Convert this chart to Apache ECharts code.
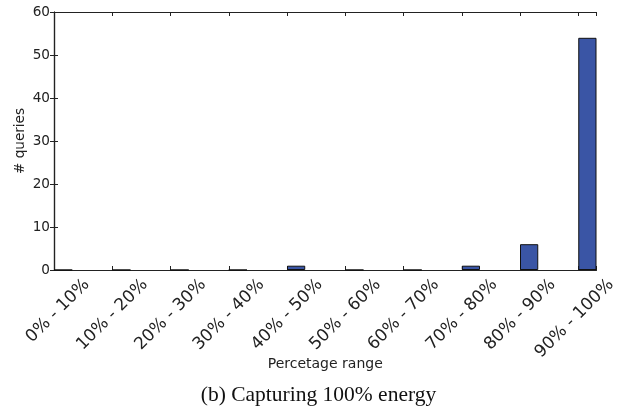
<!DOCTYPE html>
<html><head><meta charset="utf-8">
<script src="https://cdn.jsdelivr.net/npm/echarts@6/dist/echarts.min.js"></script>
<style>html,body{margin:0;padding:0;background:#fff}#c{width:637px;height:410px}</style>
</head><body><div id="c"></div>
<script>
const categories = ['0% - 10%', '10% - 20%', '20% - 30%', '30% - 40%', '40% - 50%',
                    '50% - 60%', '60% - 70%', '70% - 80%', '80% - 90%', '90% - 100%'];
const queryCounts = [0, 0, 0, 0, 1, 0, 0, 1, 6, 54];
const yMin = 0, yMax = 60, yStep = 10;
const xTitle = 'Percetage range';
const yTitle = '# queries';
const caption = '(b) Capturing 100% energy';

const BAR_UNITS = 0.313;            // bar width in category units (edge-aligned bars)
const LABEL_FONT = 17;
const FONT = '"DejaVu Sans", sans-serif';
const AXIS_COLOR = '#222';
const TEXT_COLOR = '#222';

const chart = echarts.init(document.getElementById('c'), null, { renderer: 'canvas' });
const barData = queryCounts.map((v, i) => [i + BAR_UNITS / 2, v]);

const frameAxis = {
  type: 'value', min: 0, max: categories.length - 1 + BAR_UNITS, interval: 1,
  axisLine: { show: true, onZero: false, lineStyle: { color: AXIS_COLOR, width: 1.2 } },
  axisTick: { show: true, inside: true, length: 4, lineStyle: { color: AXIS_COLOR } },
  axisLabel: { show: false }, splitLine: { show: false }
};

chart.setOption({
  animation: false,
  backgroundColor: '#fff',
  title: {
    text: caption, left: 'center', top: 379,
    textStyle: { fontFamily: '"Liberation Serif", serif', fontSize: 21.5, fontWeight: 'normal', color: '#111' }
  },
  grid: [
    { left: 54, top: 12, width: 542.5, height: 258 },
    { left: 86.7, top: 12, width: 524.25, height: 258 }
  ],
  xAxis: [
    Object.assign({}, frameAxis, {
      gridIndex: 0, position: 'bottom',
      name: xTitle, nameLocation: 'middle', nameGap: 87, nameMoveOverlap: false,
      nameTextStyle: { fontFamily: FONT, fontSize: 14, color: TEXT_COLOR }
    }),
    Object.assign({}, frameAxis, { gridIndex: 0, position: 'top' }),
    {
      gridIndex: 1, type: 'category', data: categories, boundaryGap: false, position: 'bottom',
      axisLine: { show: false }, axisTick: { show: false }, splitLine: { show: false },
      axisLabel: {
        show: true, interval: 0, rotate: 45,
        margin: 12, fontFamily: FONT, fontSize: LABEL_FONT, color: TEXT_COLOR
      }
    }
  ],
  yAxis: [
    {
      gridIndex: 0, type: 'value', min: yMin, max: yMax, interval: yStep, position: 'left',
      axisLine: { show: true, lineStyle: { color: AXIS_COLOR, width: 1.2 } },
      axisTick: { show: true, inside: true, length: 4, lineStyle: { color: AXIS_COLOR } },
      axisLabel: { margin: 4, fontFamily: FONT, fontSize: 13.6, color: TEXT_COLOR },
      splitLine: { show: false },
      name: yTitle, nameLocation: 'middle', nameGap: 27, nameRotate: 90, nameMoveOverlap: false,
      nameTextStyle: { fontFamily: FONT, fontSize: 13.6, color: TEXT_COLOR }
    },
    {
      gridIndex: 0, type: 'value', min: yMin, max: yMax, interval: yStep, position: 'right',
      axisLine: { show: true, lineStyle: { color: AXIS_COLOR, width: 1.2 } },
      axisTick: { show: true, inside: true, length: 4, lineStyle: { color: AXIS_COLOR } },
      axisLabel: { show: false }, splitLine: { show: false }
    },
    {
      gridIndex: 1, type: 'value', min: yMin, max: yMax, show: false
    }
  ],
  series: [{
    type: 'bar', xAxisIndex: 0, yAxisIndex: 0, data: barData, barWidth: 18.25,
    itemStyle: { color: '#3a55a5', borderColor: '#111', borderWidth: 1 }
  }]
});
</script></body></html>
